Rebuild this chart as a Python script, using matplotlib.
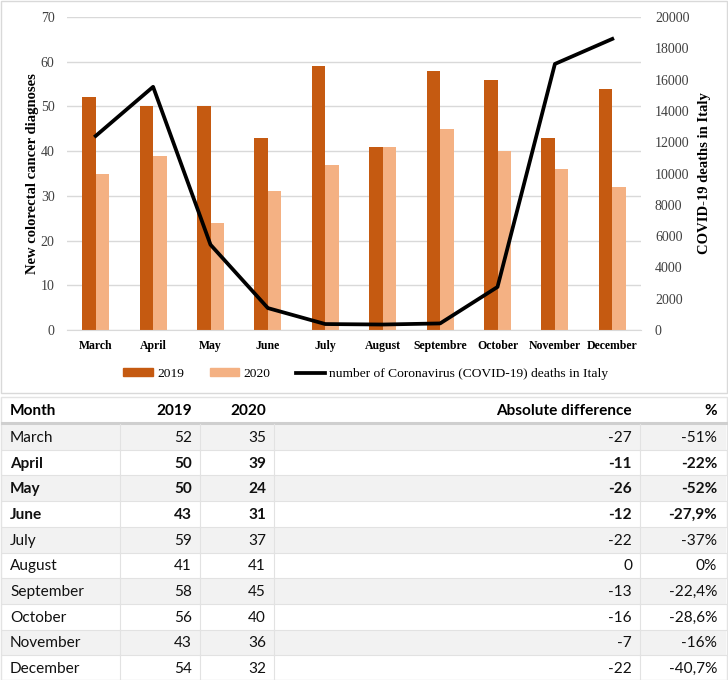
import matplotlib.pyplot as plt
from matplotlib.patches import Rectangle
from matplotlib.lines import Line2D

months = ["March", "April", "May", "June", "July", "August", "Septembre",
          "October", "November", "December"]
cases_2019 = [52, 50, 50, 43, 59, 41, 58, 56, 43, 54]
cases_2020 = [35, 39, 24, 31, 37, 41, 45, 40, 36, 32]
covid_deaths = [12400, 15540, 5450, 1400, 380, 350, 420, 2750, 17000, 18600]

table_months = ["March", "April", "May", "June", "July", "August", "September",
                "October", "November", "December"]
abs_diff = ["-27", "-11", "-26", "-12", "-22", "0", "-13", "-16", "-7", "-22"]
pct_diff = ["-51%", "-22%", "-52%", "-27,9%", "-37%", "0%", "-22,4%", "-28,6%",
            "-16%", "-40,7%"]
bold_rows = ["April", "May", "June"]

W, H = 728, 680
fig = plt.figure(figsize=(W / 100, H / 100), dpi=100)

serif = "Liberation Serif"
c19 = "#C55A11"
c20 = "#F4B183"

# background / frames
bg = fig.add_axes([0, 0, 1, 1])
bg.set_xlim(0, W)
bg.set_ylim(H, 0)
bg.axis("off")
bg.add_patch(Rectangle((1, 1), W - 2, 392, fill=False, ec="#d9d9d9", lw=1))

# chart
ax = fig.add_axes([67 / W, (H - 330) / H, 574 / W, 313 / H])
x = range(len(months))
bw = 0.235
ax.bar([i - bw / 2 for i in x], cases_2019, bw, color=c19, label="2019", zorder=2)
ax.bar([i + bw / 2 for i in x], cases_2020, bw, color=c20, label="2020", zorder=2)
ax.set_xlim(-0.5, len(months) - 0.5)
ax.set_ylim(0, 70)
ax.set_yticks(range(0, 71, 10))
ax.yaxis.grid(True, color="#d9d9d9", lw=1)
ax.set_axisbelow(True)
for s in ["top", "right", "left"]:
    ax.spines[s].set_visible(False)
ax.spines["bottom"].set_color("#d9d9d9")
ax.tick_params(length=0)
ax.set_xticks(list(x))
ax.set_xticklabels(months, fontfamily=serif, fontweight="bold", fontsize=8.5)
ax.tick_params(axis="x", pad=7)
ax.tick_params(axis="y", pad=9)
for t in ax.get_yticklabels():
    t.set_fontfamily(serif)
    t.set_fontsize(10)
    t.set_color("#404040")
ax.set_ylabel("New colorectal cancer diagnoses", fontfamily=serif,
              fontweight="bold", fontsize=10.5, labelpad=1)

ax2 = ax.twinx()
ax2.plot(list(x), covid_deaths, color="black", lw=2.7, zorder=3,
         label="number of Coronavirus (COVID-19) deaths in Italy")
ax2.set_ylim(0, 20000)
ax2.set_yticks(range(0, 20001, 2000))
for s in ["top", "right", "left", "bottom"]:
    ax2.spines[s].set_visible(False)
ax2.tick_params(length=0, pad=10)
for t in ax2.get_yticklabels():
    t.set_fontfamily(serif)
    t.set_fontsize(10)
    t.set_color("#404040")
ax2.set_ylabel("COVID-19 deaths in Italy", fontfamily=serif, fontweight="bold",
               fontsize=10.5, labelpad=6)

handles = [Rectangle((0, 0), 1, 1, color=c19), Rectangle((0, 0), 1, 1, color=c20),
           Line2D([], [], color="black", lw=2.7)]
labels = ["2019", "2020", "number of Coronavirus (COVID-19) deaths in Italy"]
fig.legend(handles, labels, loc="center", bbox_to_anchor=(366 / W, 1 - 374 / H),
           ncol=3, frameon=False, handlelength=2.2, handleheight=0.5,
           columnspacing=1.9, handletextpad=0.3,
           prop={"family": serif, "size": 9.7})

# table
tf = "Lato"
fs = 11.1
top_hdr, hdr_bot = 397, 423
rh = (H - hdr_bot) / len(table_months)
bg.add_patch(Rectangle((1, top_hdr), W - 2, H - top_hdr, fill=False, ec="#e3e3e3", lw=1))
hy = (top_hdr + hdr_bot) / 2 + 1
hkw = dict(va="center", fontfamily=tf, fontweight="bold", fontsize=fs)
bg.text(10, hy, "Month", ha="left", **hkw)
bg.text(192, hy, "2019", ha="right", **hkw)
bg.text(266, hy, "2020", ha="right", **hkw)
bg.text(632, hy, "Absolute difference", ha="right", **hkw)
bg.text(717, hy, "%", ha="right", **hkw)
bg.plot([2, W - 2], [hdr_bot, hdr_bot], color="#cfcfcf", lw=2.2)

for i, m in enumerate(table_months):
    y0 = hdr_bot + 1 + i * rh
    if i % 2 == 0:
        bg.add_patch(Rectangle((2, y0), W - 4, rh, color="#f2f2f2", lw=0, zorder=0))
    bg.plot([2, W - 2], [y0 + rh, y0 + rh], color="#e2e2e2", lw=0.8)
    for cx in [120, 200, 274, 640]:
        bg.plot([cx, cx], [y0, y0 + rh], color="#e2e2e2", lw=0.8)
    yc = y0 + rh / 2 + 1
    fw = "bold" if m in bold_rows else "normal"
    kw = dict(va="center", fontfamily=tf, fontweight=fw, fontsize=fs, color="#111111")
    bg.text(10, yc, m, ha="left", **kw)
    bg.text(192, yc, str(cases_2019[i]), ha="right", **kw)
    bg.text(266, yc, str(cases_2020[i]), ha="right", **kw)
    bg.text(632, yc, abs_diff[i], ha="right", **kw)
    bg.text(717, yc, pct_diff[i], ha="right", **kw)

fig.savefig("out.png", dpi=100)
